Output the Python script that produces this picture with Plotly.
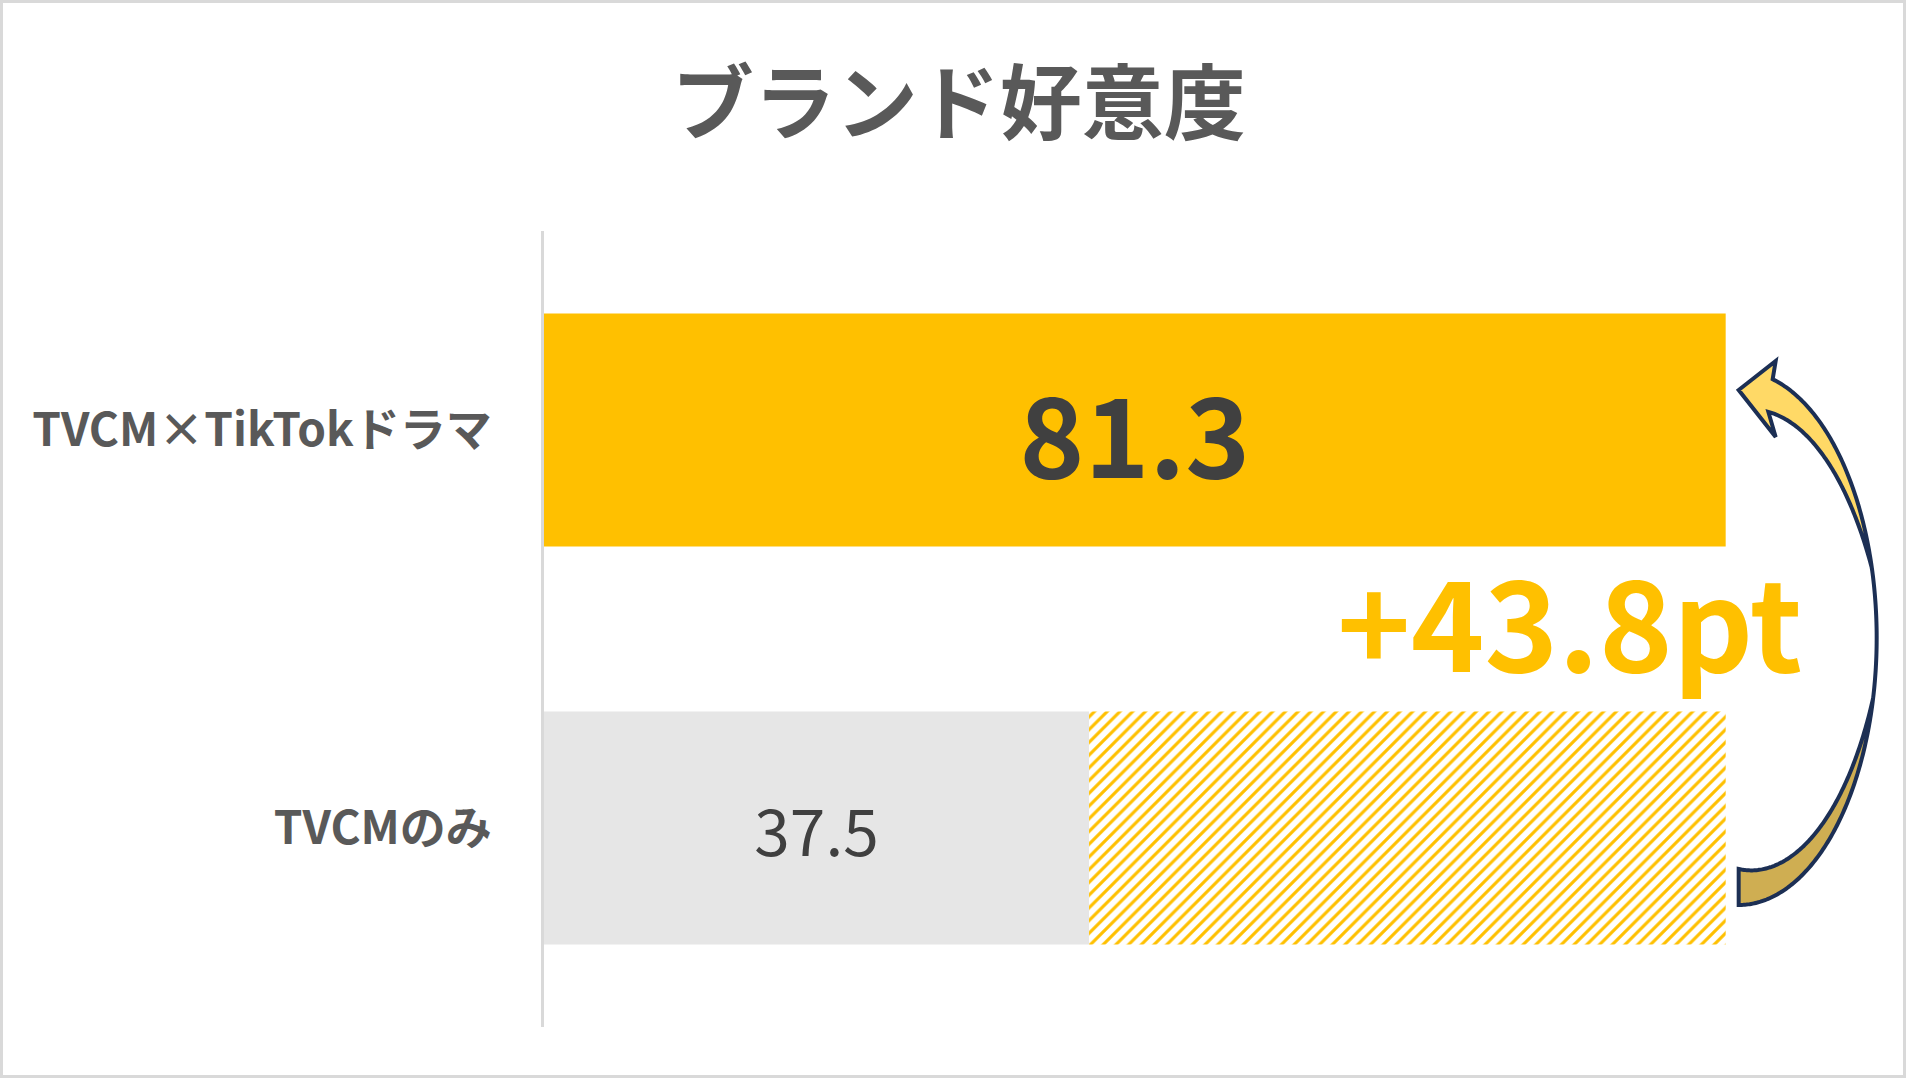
import numpy as np
import plotly.graph_objects as go

# ---------------- data ----------------
categories = ["TVCM×TikTokドラマ", "TVCMのみ"]
values = [81.3, 37.5]
bar_colors = ["#FFC000", "#E6E6E6"]
value_labels = ["<b>81.3</b>", "37.5"]
value_label_sizes = [110, 64]
title_text = "ブランド好意度"

FONT = "Noto Sans CJK JP"
W, H = 1906, 1078
ML, MR, MT, MB = 544, 3, 231, 51
XMAX = 93.5
pw = W - ML - MR
ph = H - MT - MB
sx = pw / XMAX          # px per x unit
sy = ph / 2.0           # px per category unit

gap = values[0] - values[1]
gap_label = f"+{gap:.1f}pt"

fig = go.Figure()

fig.add_trace(go.Bar(
    y=[0, 1], x=values, orientation="h", width=0.585,
    marker=dict(color=bar_colors, line=dict(width=0)),
    text=value_labels, textposition="inside", insidetextanchor="middle",
    textangle=0,
    textfont=dict(family=FONT, size=value_label_sizes, color="#404040"),
    hoverinfo="skip", showlegend=False,
))
fig.add_trace(go.Bar(
    y=[1], x=[gap], base=[values[1]], orientation="h", width=0.585,
    marker=dict(color="white", line=dict(width=0),
                pattern=dict(shape="/", fgcolor="#FFC000", bgcolor="white",
                             size=9, solidity=0.35, fillmode="replace")),
    hoverinfo="skip", showlegend=False,
))

# ---------------- curved arrow (decoration) ----------------
cx = values[0] + 13 / sx      # arrow centre, just right of the longest bar
cy = 0.5 + 9 / sy
a_px, b_px = 138.0, 267.0

def to_data(ox, oy):
    return cx + ox / sx, cy + oy / sy

def outer(t):
    return a_px * np.sin(t), -b_px * np.cos(t)

def inner(t, w):
    ox, oy = outer(t)
    rho = np.hypot(ox, oy)
    s = 1 - w / rho
    return ox * s, oy * s

def path_from(pts):
    segs = []
    for i, (ox, oy) in enumerate(pts):
        x, y = to_data(ox, oy)
        segs.append(("M" if i == 0 else "L") + f"{x:.4f},{y:.5f}")
    return " ".join(segs) + " Z"

t_h = np.arcsin(34 / a_px)
t1, t2 = 1.306, 1.797
# top ribbon (front face)
ts = np.linspace(t_h, t2, 120)
w_top = np.clip(33 * (t1 - ts) / (t1 - t_h), 0, None)
outer_pts = [outer(t) for t in ts]
inner_pts = [inner(t, w) for t, w in zip(ts, w_top)][::-1]
tip = (0.0, -248.0)
wing_top = (37.0, -277.0)
wing_bot = (37.0, -201.0)
top_pts = [tip, wing_top] + outer_pts + inner_pts + [wing_bot]

# bottom ribbon (back face)
tb = np.linspace(t2, np.pi, 120)
w_bot = 36 * (tb - t2) / (np.pi - t2)
bot_outer = [outer(t) for t in tb]
bot_inner = [inner(t, w) for t, w in zip(tb, w_bot)][::-1]
bot_pts = bot_outer + bot_inner

NAVY = "#1C2F54"
fig.add_shape(type="path", path=path_from(bot_pts), xref="x", yref="y",
              fillcolor="#CFAE52", line=dict(color=NAVY, width=4))
fig.add_shape(type="path", path=path_from(top_pts), xref="x", yref="y",
              fillcolor="#FFD966", line=dict(color=NAVY, width=4))

# outer border of the chart area
fig.add_shape(type="rect", xref="paper", yref="paper",
              x0=(1.5 - ML) / pw, x1=(W - 1.5 - ML) / pw,
              y0=(H - MB - (H - 1.5)) / ph, y1=(H - MB - 1.5) / ph,
              line=dict(color="#D9D9D9", width=3), fillcolor="rgba(0,0,0,0)")

fig.add_annotation(x=values[1] + gap * 0.755, y=0.47, xref="x", yref="y",
                   text=f"<b>{gap_label}</b>", showarrow=False,
                   xanchor="center", yanchor="middle",
                   font=dict(family=FONT, size=125, color="#FFC000"))

fig.update_layout(
    width=W, height=H,
    margin=dict(l=ML, r=MR, t=MT, b=MB, pad=0),
    paper_bgcolor="white", plot_bgcolor="white",
    barmode="overlay",
    title=dict(text=f"<b>{title_text}</b>", x=0.503, xref="container", xanchor="center",
               y=1 - 104 / H, yref="container", yanchor="middle",
               font=dict(family=FONT, size=82, color="#595959")),
    xaxis=dict(range=[0, XMAX], showgrid=False, zeroline=False, showline=False,
               showticklabels=False, ticks=""),
    yaxis=dict(range=[1.5, -0.5], tickvals=[0, 1], ticktext=categories,
               showgrid=False, zeroline=False, showline=True,
               linecolor="#D9D9D9", linewidth=3, ticks="", ticklabelstandoff=40,
               tickfont=dict(family=FONT, size=46, color="#595959", weight="bold")),
)

fig.write_html("out.html", config={"displayModeBar": False},
               post_script="document.body.style.margin='0';")
